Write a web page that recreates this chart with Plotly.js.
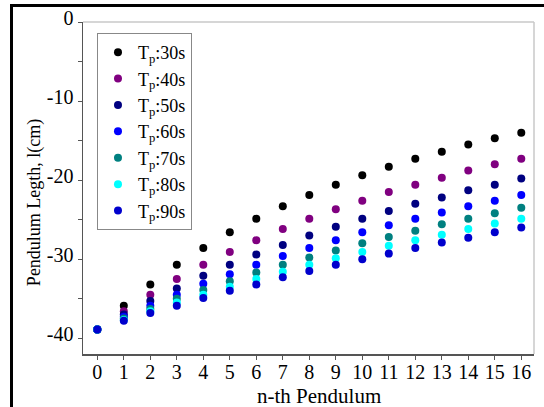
<!DOCTYPE html>
<html>
<head>
<meta charset="utf-8">
<script src="https://cdn.plot.ly/plotly-3.0.1.min.js"></script>
<style>
  html, body { margin: 0; padding: 0; background: #fff; }
  #chart { width: 544px; height: 407px; position: relative; }
  #frame { position: absolute; left: 10px; top: 4px; right: -10px; bottom: -10px;
           border-left: 3px solid #000; border-top: 3px solid #000; pointer-events: none; }
</style>
</head>
<body>
<div id="chart"></div>
<div id="frame"></div>
<script>
const nthPendulum = [0, 1, 2, 3, 4, 5, 6, 7, 8, 9, 10, 11, 12, 13, 14, 15, 16];
const xTickLabels = ["0", "1", "2", "3", "4", "5", "6", "7", "8", "9", "10", "11", "12", "13", "14", "15", "16"];
const yTickValues = [0, -10, -20, -30, -40];
const yTickLabels = ["0", "-10", "-20", "-30", "-40"];

const seriesNames = ["T<sub>p</sub>:30s", "T<sub>p</sub>:40s", "T<sub>p</sub>:50s",
                     "T<sub>p</sub>:60s", "T<sub>p</sub>:70s", "T<sub>p</sub>:80s", "T<sub>p</sub>:90s"];

const tp30 = [-38.9, -35.9, -33.2, -30.7, -28.6, -26.6, -24.9, -23.3, -21.9, -20.6, -19.4, -18.3, -17.3, -16.4, -15.5, -14.7, -14.0];
const tp40 = [-38.9, -36.6, -34.5, -32.5, -30.7, -29.1, -27.6, -26.2, -24.9, -23.7, -22.6, -21.5, -20.6, -19.7, -18.8, -18.0, -17.3];
const tp50 = [-38.9, -37.0, -35.3, -33.7, -32.1, -30.7, -29.4, -28.2, -27.0, -25.9, -24.9, -23.9, -23.0, -22.2, -21.3, -20.6, -19.8];
const tp60 = [-38.9, -37.3, -35.9, -34.5, -33.1, -31.9, -30.7, -29.6, -28.6, -27.6, -26.6, -25.7, -24.9, -24.1, -23.3, -22.6, -21.9];
const tp70 = [-38.9, -37.5, -36.3, -35.0, -33.9, -32.8, -31.7, -30.7, -29.8, -28.9, -28.0, -27.2, -26.4, -25.6, -24.9, -24.2, -23.5];
const tp80 = [-38.9, -37.7, -36.6, -35.5, -34.5, -33.5, -32.5, -31.6, -30.7, -29.9, -29.1, -28.3, -27.6, -26.9, -26.2, -25.5, -24.9];
const tp90 = [-38.9, -37.8, -36.8, -35.9, -34.9, -34.0, -33.2, -32.3, -31.5, -30.7, -30.0, -29.3, -28.6, -27.9, -27.3, -26.6, -26.0];

const allSeries = [tp30, tp40, tp50, tp60, tp70, tp80, tp90];
const colors = ["#000000", "#800080", "#000080", "#0000ff", "#008080", "#00ffff", "#0000cd"];

const traces = allSeries.map((vals, i) => ({
  x: nthPendulum,
  y: vals,
  type: "scatter",
  mode: "markers",
  name: seriesNames[i],
  marker: { color: colors[i], size: 8 }
}));

const fam = "Liberation Serif, Times New Roman, serif";
const tickFont = { family: fam, size: 20, color: "#000" };
const legendFont = { family: fam, size: 18, color: "#000" };

const layout = {
  width: 544,
  height: 407,
  margin: { l: 83, r: 10, t: 22, b: 53 },
  paper_bgcolor: "#fff",
  plot_bgcolor: "#fff",
  font: tickFont,
  showlegend: true,
  legend: {
    x: 0.031, y: 0.967, xanchor: "left", yanchor: "top",
    bgcolor: "#fff", bordercolor: "#888", borderwidth: 1,
    font: legendFont, tracegroupgap: 0, itemwidth: 30
  },
  xaxis: {
    range: [-0.54, 16.48],
    tickmode: "array",
    tickvals: nthPendulum,
    ticktext: xTickLabels,
    ticks: "outside", ticklen: 4, tickcolor: "#555",
    ticklabelstandoff: -5,
    showline: true, linecolor: "#555", linewidth: 1.5,
    showgrid: false, zeroline: false,
    tickfont: tickFont
  },
  yaxis: {
    range: [-42, 0],
    tickmode: "array",
    tickvals: yTickValues,
    ticktext: yTickLabels,
    ticks: "outside", ticklen: 4, tickcolor: "#555",
    ticklabelshift: -4,
    minor: { dtick: 5, ticks: "outside", ticklen: 4, tickcolor: "#555", showgrid: false },
    showline: true, linecolor: "#555", linewidth: 1.5,
    showgrid: false, zeroline: false,
    tickfont: tickFont
  },
  annotations: [
    { text: "n-th Pendulum", xref: "paper", yref: "paper", x: 0.523, y: -0.125,
      xanchor: "center", yanchor: "middle", showarrow: false,
      font: { family: fam, size: 21, color: "#000" } },
    { text: "Pendulum Legth, l(cm)", xref: "paper", yref: "paper", x: -0.106, y: 0.455,
      xanchor: "center", yanchor: "middle", textangle: -90, showarrow: false,
      font: { family: fam, size: 18, color: "#000" } }
  ],
  shapes: [
    { type: "line", xref: "paper", yref: "paper", x0: 0, x1: 1, y0: 1, y1: 1,
      line: { color: "#c8c8c8", width: 1.5 } },
    { type: "line", xref: "paper", yref: "paper", x0: 1, x1: 1, y0: 0, y1: 1,
      line: { color: "#c8c8c8", width: 1.5 } }
  ]
};

Plotly.newPlot("chart", traces, layout, { displayModeBar: false, staticPlot: true });
</script>
</body>
</html>
